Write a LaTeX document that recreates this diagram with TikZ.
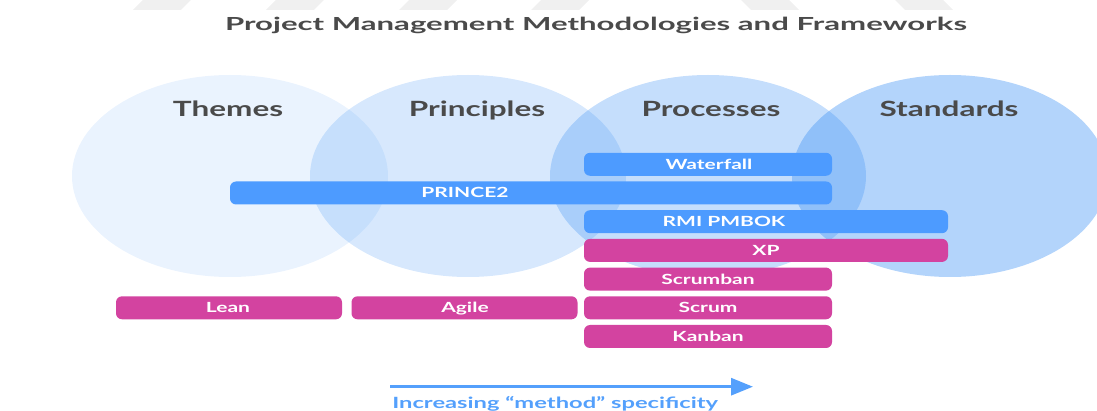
\documentclass[tikz,border=0pt]{standalone}
\usepackage{fontspec}
\setmainfont{Lato}
\usetikzlibrary{arrows.meta,shapes.geometric}

\definecolor{vennbase}{RGB}{65,147,245}
\definecolor{barblue}{RGB}{77,155,255}
\definecolor{barpink}{RGB}{211,67,160}
\definecolor{labelgray}{RGB}{74,74,74}
\definecolor{arrowblue}{RGB}{84,160,252}

% horizontal stretch applied to all lettering
\newcommand\textstretch{1.5}

\begin{document}
\begin{tikzpicture}[x=1pt,y=-1pt,
  venn/.style={ellipse, minimum width=316pt, minimum height=202pt,
    inner sep=0pt, fill=vennbase, fill opacity=#1},
  barbox/.style={rectangle, rounded corners=6pt, minimum height=23pt,
    inner sep=0pt, fill=#1},
  bartext/.style={text=white, anchor=base, inner sep=0pt, xscale=\textstretch,
    font=\bfseries\fontsize{14}{14}\selectfont},
  venntext/.style={text=labelgray, anchor=base, inner sep=0pt, xscale=\textstretch,
    font=\bfseries\fontsize{21}{21}\selectfont},
  stripe/.style={fill=black!6}
]
\useasboundingbox (0,0) rectangle (1097,411);
\clip (0,0) rectangle (1097,411);

% faint slanted stripes along the top edge
\foreach \sx in {133,266,399,531}
  \fill[stripe] (\sx,10) -- (\sx+10,0) -- (\sx+58,0) -- (\sx+48,10) -- cycle;
\foreach \sx in {741,895}
  \fill[stripe] (\sx,0) -- (\sx+48,0) -- (\sx+58,10) -- (\sx+10,10) -- cycle;

% title
\node[text=labelgray, anchor=base, inner sep=0pt, xscale=1.73,
  font=\bfseries\fontsize{18}{18}\selectfont] (title) at (596,30.5)
  {Project Management Methodologies and Frameworks};

% the four overlapping areas
\node[venn=0.11]  (themes)     at (230,176) {};
\node[venn=0.21]  (principles) at (468,176) {};
\node[venn=0.305] (processes)  at (708,176) {};
\node[venn=0.40]  (standards)  at (950,176) {};

\node[venntext] (themesL)     at (228,117) {Themes};
\node[venntext] (principlesL) at (477,117) {Principles};
\node[venntext] (processesL)  at (711,117) {Processes};
\node[venntext] (standardsL)  at (949,117) {Standards};

% methodology bars
\node[barbox=barblue, minimum width=248pt] (waterfall) at (708,164.3) {};
\node[barbox=barblue, minimum width=602pt] (prince)    at (531,193.0) {};
\node[barbox=barblue, minimum width=364pt] (pmbok)     at (766,221.7) {};
\node[barbox=barpink, minimum width=364pt] (xp)        at (766,250.4) {};
\node[barbox=barpink, minimum width=248pt] (scrumban)  at (708,279.1) {};
\node[barbox=barpink, minimum width=226pt] (lean)      at (229,307.8) {};
\node[barbox=barpink, minimum width=226pt] (agile)     at (464.5,307.8) {};
\node[barbox=barpink, minimum width=248pt] (scrum)     at (708,307.8) {};
\node[barbox=barpink, minimum width=248pt] (kanban)    at (708,336.5) {};

\node[bartext] (waterfallT) at (709,169.3) {Waterfall};
\node[bartext] (princeT)    at (465,198.0) {PRINCE2};
\node[bartext] (pmbokT)     at (724,226.7) {RMI PMBOK};
\node[bartext] (xpT)        at (766,255.4) {XP};
\node[bartext] (scrumbanT)  at (708,284.1) {Scrumban};
\node[bartext] (leanT)      at (228,312.8) {Lean};
\node[bartext] (agileT)     at (465,312.8) {Agile};
\node[bartext] (scrumT)     at (708,312.8) {Scrum};
\node[bartext] (kanbanT)    at (708,341.5) {Kanban};

% specificity axis
\coordinate (axisStart) at (390,386.7);
\coordinate (axisEnd)   at (753,386.7);
\draw[arrowblue, line width=3pt, -{Triangle[length=22pt,width=17pt]}]
  (axisStart) -- (axisEnd);
\node[text=arrowblue, anchor=base west, inner sep=0pt, xscale=1.53,
  font=\bfseries\fontsize{15.5}{15.5}\selectfont] (axisL) at (392,408.5)
  {Increasing “method” specificity};
\end{tikzpicture}
\end{document}
